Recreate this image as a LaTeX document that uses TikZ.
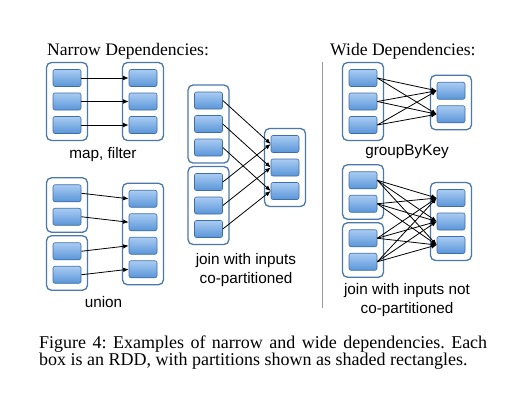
\documentclass[tikz,border=0pt]{standalone}
\usepackage{fontspec}
\setmainfont{Liberation Serif}
\setsansfont{Liberation Sans}
\usetikzlibrary{arrows.meta}
\definecolor{rddedge}{HTML}{4A78AA}
\definecolor{partedge}{HTML}{3E6EA6}
\definecolor{parttop}{HTML}{A9CCF3}
\definecolor{partbot}{HTML}{5A95D8}
\frenchspacing
\tikzset{
  rdd/.style={draw=rddedge, line width=1.3pt, rounded corners=5pt, fill=white, inner sep=0pt, minimum width=41pt},
  part/.style={draw=partedge, line width=0.6pt, rounded corners=2pt, top color=parttop, bottom color=partbot, minimum width=28pt, minimum height=17pt, inner sep=0pt},
  dep/.style={-{Latex[length=5.5pt,width=4.5pt]}, line width=0.8pt, black},
  heading/.style={anchor=base west, inner sep=0pt, font=\fontsize{17.6}{20}\selectfont},
  lbl/.style={anchor=base, inner sep=0pt, font=\sffamily\fontsize{15.3}{18}\selectfont},
  capline/.style={anchor=base west, inner sep=0pt, font=\fontsize{18}{20}\selectfont}
}
\newcommand\mkrdd[4]{%
  \pgfmathsetmacro\rddh{#4*23.5+7.5}%
  \node[rdd, minimum height=\rddh pt] (#1) at (#2,#3) {};%
  \foreach \i in {1,...,#4}{%
    \node[part] (#1\i) at (#2, {#3 + (\i-(#4+1)/2)*23.5}) {};%
  }%
}
\begin{document}
\begin{tikzpicture}[x=1pt,y=-1pt]
\useasboundingbox (0,0) rectangle (507,397);
% headings
\node[heading] (hn) at (47,55) {Narrow Dependencies:};
\node[heading] (hw) at (330,55) {Wide Dependencies:};
\coordinate (sepa) at (322.5,62);
\coordinate (sepb) at (322.5,308);
\draw[line width=1.5pt, black!40] (sepa) -- (sepb);
% map, filter
\mkrdd{ma}{67}{101.5}{3}
\mkrdd{mb}{143}{101.5}{3}
\foreach \i in {1,2,3}{\draw[dep] (ma\i.east) -- (mb\i.west);}
\node[lbl] (lmap) at (103,158) {map, filter};
% union
\mkrdd{ua}{67}{205}{2}
\mkrdd{ub}{67}{263}{2}
\mkrdd{uc}{143}{234}{4}
\draw[dep] (ua1.east) -- (uc1.west);
\draw[dep] (ua2.east) -- (uc2.west);
\draw[dep] (ub1.east) -- (uc3.west);
\draw[dep] (ub2.east) -- (uc4.west);
\node[lbl] (lunion) at (103.5,307) {union};
% join co-partitioned
\mkrdd{ja}{208.5}{124}{3}
\mkrdd{jb}{208.5}{205.5}{3}
\mkrdd{jc}{285}{167.5}{3}
\foreach \i in {1,2,3}{\draw[dep] (ja\i.east) -- (jc\i.west); \draw[dep] (jb\i.east) -- (jc\i.west);}
\node[lbl] (ljoin1) at (246,264) {join with inputs};
\node[lbl] (ljoin2) at (246,283) {co-partitioned};
% groupByKey
\mkrdd{ga}{363}{101.5}{3}
\mkrdd{gb}{451}{102.5}{2}
\foreach \i in {1,2,3}{\foreach \j in {1,2}{\draw[dep] (ga\i.east) -- (gb\j.west);}}
\node[lbl] (lgroup) at (407,155) {groupByKey};
% join not co-partitioned
\mkrdd{wa}{363}{192}{2}
\mkrdd{wb}{363}{250}{2}
\mkrdd{wc}{451}{221.5}{3}
\foreach \i in {1,2}{\foreach \j in {1,2,3}{\draw[dep] (wa\i.east) -- (wc\j.west); \draw[dep] (wb\i.east) -- (wc\j.west);}}
\node[lbl] (lwide1) at (407,294) {join with inputs not};
\node[lbl] (lwide2) at (407,313) {co-partitioned};
% caption
\node[capline] (cap1) at (39,348) {\makebox[448pt][s]{Figure 4: Examples of narrow and wide dependencies. Each}};
\node[capline] (cap2) at (39,365) {box is an RDD, with partitions shown as shaded rectangles.};
\end{tikzpicture}
\end{document}
